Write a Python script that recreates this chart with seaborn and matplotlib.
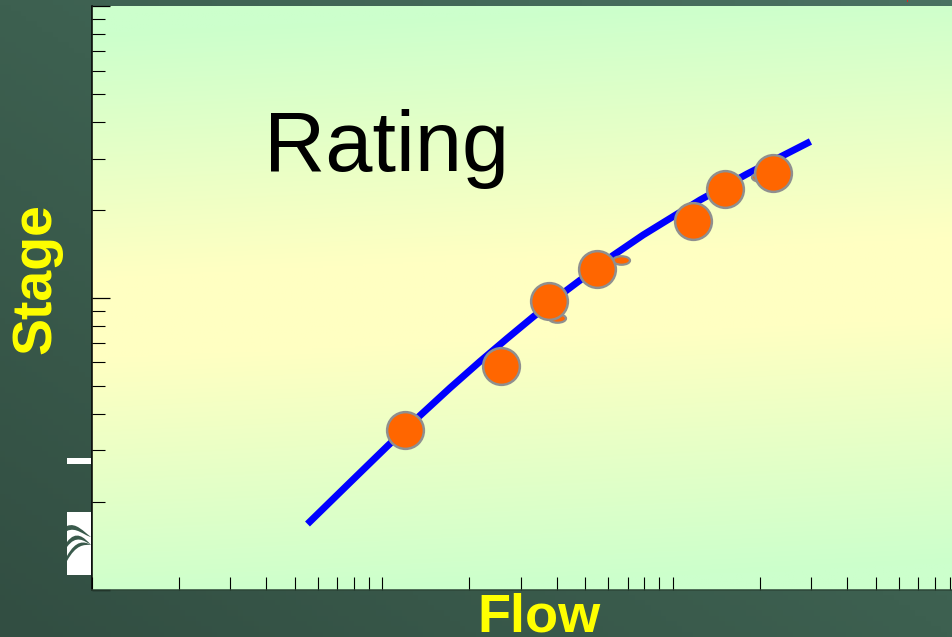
import numpy as np
import pandas as pd
import seaborn as sns
import matplotlib.pyplot as plt
from matplotlib.colors import LinearSegmentedColormap
from matplotlib.markers import MarkerStyle
from matplotlib.patches import PathPatch, Rectangle
from matplotlib.path import Path
from matplotlib.ticker import LogLocator, NullFormatter
from matplotlib.transforms import Affine2D

# rating curve
curve_flow = [5.54, 7.76, 10.49, 13.52, 17.14, 21.74, 26.94, 33.09, 43.34, 62.4, 79.2, 124.4, 180.5, 298.5]
curve_stage = [1.677, 2.327, 3.116, 3.948, 4.906, 6.047, 7.25, 8.59, 10.63, 13.96, 16.41, 21.63, 26.56, 34.32]

# measurements
point_flow = [12.0, 25.7, 37.6, 55.0, 117.7, 151.6, 221.8]
point_stage = [3.53, 5.83, 9.74, 12.55, 18.33, 23.6, 26.8]

# small squashed marks peeking out from behind the circles
blob_flow = [40.0, 66.5, 200.0]
blob_stage = [8.52, 13.47, 25.9]

title_text = 'Rating'
x_label = 'Flow'
y_label = 'Stage'

W, H = 952, 637
AX_LEFT, AX_TOP, AX_BOTTOM = 91.5, 6, 589.5
X_DECADE = 290.5

sns.set_style('ticks')
plt.rcParams['font.family'] = ['Liberation Sans', 'DejaVu Sans']

fig = plt.figure(figsize=(W / 100, H / 100), dpi=100)

# dark slide background
bg_ax = fig.add_axes([0, 0, 1, 1], zorder=0)
yy, xx = np.mgrid[0:1:120j, 0:1:180j]
bg_cmap = LinearSegmentedColormap.from_list('slide', ['#324e42', '#3d6050', '#4a7262'])
bg_ax.imshow(xx * 0.5 + (1 - yy) * 0.5, cmap=bg_cmap, aspect='auto',
             origin='upper', extent=(0, W, H, 0), vmin=0, vmax=1)
bg_ax.set_xlim(0, W)
bg_ax.set_ylim(H, 0)
bg_ax.axis('off')

# white leftovers of the logo, left of the axis
bg_ax.add_patch(Rectangle((67, 458), 24, 6, color='white', lw=0))
bg_ax.add_patch(Rectangle((67, 512), 24, 62.5, color='white', lw=0))
for y0, y1, y2, y3 in [(526, 522, 532, 537), (542, 530, 537, 545), (556, 540, 541, 545)]:
    swoosh = Path([(67, y0), (76, y1), (84, y2), (91, y3), (84, y2 + 3.5), (76, y1 + 4.5), (67, y0 + 5)],
                  [Path.MOVETO, Path.CURVE4, Path.CURVE4, Path.CURVE4, Path.CURVE4, Path.CURVE4, Path.CURVE4])
    bg_ax.add_patch(PathPatch(swoosh, facecolor='#3a5a4c', edgecolor='none'))
# tiny red speck on the top edge
bg_ax.add_patch(Rectangle((906.5, 0), 1.5, 1.5, color='#e02020', lw=0))

ax = fig.add_axes([AX_LEFT / W, 1 - AX_BOTTOM / H, (W - AX_LEFT) / W, (AX_BOTTOM - AX_TOP) / H], zorder=1)
ax.set_xscale('log')
ax.set_yscale('log')

# green - yellow - green plot area, slightly tilted
gy, gx = np.mgrid[0:1:300j, 0:1:300j]
dist = np.abs(gy - 0.5 + (gx - 0.5) * 0.07)
glow = np.clip((0.49 - dist) / 0.42, 0, 1)
area_cmap = LinearSegmentedColormap.from_list('area', ['#ccffcc', '#ffffc2'])
ax.imshow(glow, cmap=area_cmap, aspect='auto', origin='upper', transform=ax.transAxes,
          extent=(0, 1, 0, 1), vmin=0, vmax=1, zorder=0)

sns.lineplot(x=curve_flow, y=curve_stage, sort=False, estimator=None, color='#0000ff',
             linewidth=5, solid_capstyle='butt', solid_joinstyle='round', ax=ax, zorder=2)

squashed = MarkerStyle(Path.unit_circle().transformed(Affine2D().scale(1, 0.5)))
sns.scatterplot(x=blob_flow, y=blob_stage, marker=squashed, s=150, color='#ff6600',
                edgecolor='#8f8f8f', linewidth=1.6, ax=ax, zorder=3)
points = pd.DataFrame({'flow': point_flow, 'stage': point_stage})
sns.scatterplot(data=points, x='flow', y='stage', s=700, color='#ff6600',
                edgecolor='#8f8f8f', linewidth=1.8, ax=ax, zorder=4)

ax.set_xlim(1, 10 ** ((W - AX_LEFT) / X_DECADE))
ax.set_ylim(1, 100)
ax.set_xlabel('')
ax.set_ylabel('')
for axis in (ax.xaxis, ax.yaxis):
    axis.set_major_locator(LogLocator(base=10, numticks=15))
    axis.set_minor_locator(LogLocator(base=10, subs=range(2, 10), numticks=15))
    axis.set_major_formatter(NullFormatter())
    axis.set_minor_formatter(NullFormatter())
ax.tick_params(axis='x', which='both', direction='in', length=9.4, width=0.8, color='black')
ax.tick_params(axis='y', which='major', direction='in', length=13, width=0.9, color='black')
ax.tick_params(axis='y', which='minor', direction='in', length=9.4, width=0.8, color='black')

for side in ('top', 'right'):
    ax.spines[side].set_visible(False)
ax.spines['left'].set_color('black')
ax.spines['left'].set_linewidth(1.1)
ax.spines['bottom'].set_color('#2d4638')
ax.spines['bottom'].set_linewidth(1.1)

ax.text((386.5 - AX_LEFT) / (W - AX_LEFT), (AX_BOTTOM - 171) / (AX_BOTTOM - AX_TOP), title_text,
        transform=ax.transAxes, fontsize=61, color='black', ha='center', va='baseline', zorder=5)
fig.text(539 / W, 1 - 632 / H, x_label, fontsize=39, fontweight='bold', color='#ffff00',
         ha='center', va='baseline', zorder=5)
fig.text(62 / W, 1 - 278.5 / H, y_label, fontsize=40, fontweight='bold', color='#ffff00',
         rotation=90, ha='right', va='center', zorder=5)

fig.savefig('out.png', dpi=100)
